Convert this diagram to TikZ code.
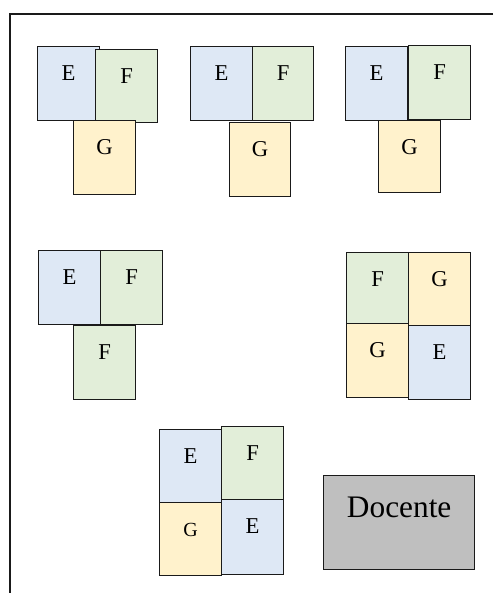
\documentclass[tikz,border=0pt]{standalone}
\usepackage{fontspec}
\setmainfont{Liberation Serif}
\definecolor{cE}{HTML}{DEE8F5}
\definecolor{cF}{HTML}{E2EED9}
\definecolor{cG}{HTML}{FFF2CC}
\definecolor{cD}{HTML}{BFBFBF}
\definecolor{lineC}{HTML}{1A1A1A}
\newcommand\cell[7]{\node[cell,#2,minimum width=#5*0.75pt,text height=34*0.75pt,text depth=(#6-34)*0.75pt] (#1) at (#3,#4) {#7};}
\begin{document}
\begin{tikzpicture}[x=0.75pt,y=-0.75pt,
  cell/.style={draw=lineC,line width=1pt,anchor=north west,inner sep=0pt,align=center,font=\fontsize{17}{19}\selectfont},
  eb/.style={fill=cE},fb/.style={fill=cF},gb/.style={fill=cG},
  db/.style={fill=cD,font=\fontsize{23.5}{26}\selectfont},
  small/.style={font=\fontsize{15}{17}\selectfont},
  frame/.style={draw=lineC,line width=0.8pt}]
\useasboundingbox (0,0) rectangle (493,593);
\coordinate (ftr) at (493,14);
\coordinate (ftl) at (10,14);
\coordinate (fbl) at (10,593);
\draw[frame] (ftr) -- (ftl) -- (fbl);
% group 1
\cell{g1e}{eb}{37}{46}{62}{74}{E}
\cell{g1f}{fb}{95}{49}{62}{73}{F}
\cell{g1g}{gb}{73}{120}{62}{74}{G}
% group 2
\cell{g2e}{eb}{190}{46}{62}{74}{E}
\cell{g2f}{fb}{252}{46}{61}{74}{F}
\cell{g2g}{gb}{229}{122}{61}{74}{G}
% group 3
\cell{g3e}{eb}{345}{46}{62}{74}{E}
\cell{g3f}{fb}{408}{45}{62}{74}{F}
\cell{g3g}{gb}{378}{120}{62}{72}{G}
% group 4
\cell{g4e}{eb}{38}{250}{62}{74}{E}
\cell{g4f}{fb}{100}{250}{62}{74}{F}
\cell{g4ff}{fb}{73}{325}{62}{74}{F}
% group 5
\cell{g5f}{fb}{346}{252}{62}{72}{F}
\cell{g5g}{gb}{408}{252}{62}{73}{G}
\cell{g5gg}{gb}{346}{323}{62}{74}{G}
\cell{g5e}{eb}{408}{325}{62}{74}{E}
% group 6
\cell{g6e}{eb}{159}{429}{62}{73}{E}
\cell{g6f}{fb}{221}{426}{62}{73}{F}
\cell{g6g}{gb,small}{159}{502}{62}{73}{G}
\cell{g6ee}{eb}{221}{499}{62}{75}{E}
% teacher
\node[cell,db,minimum width=151*0.75pt,text height=42*0.75pt,text depth=(94-42)*0.75pt] (doc) at (323,475) {Docente};
\end{tikzpicture}
\end{document}
